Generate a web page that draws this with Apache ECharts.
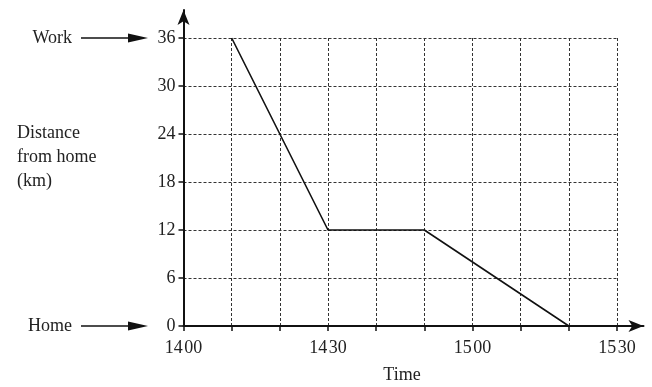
<!DOCTYPE html>
<html><head><meta charset="utf-8">
<script src="https://cdn.jsdelivr.net/npm/echarts@6/dist/echarts.min.js"></script>
<style>html,body{margin:0;padding:0;background:#fff}#c{width:652px;height:387px}</style>
</head><body><div id="c"></div>
<script>
// ---- data ----
const times = ['1410', '1430', '1450', '1520'];
const distances = [36, 12, 12, 0];
const xTickLabels = ['1400', '1430', '1500', '1530'];
const yTickLabels = [0, 6, 12, 18, 24, 30, 36];
const annotNames = ['Work', 'Home'];
const annotValues = [36, 0];
const axisTitleY = ['Distance', 'from home', '(km)'];
const axisTitleX = 'Time';

function toMin(s) { return (parseInt(s.slice(0, 2), 10) - 14) * 60 + parseInt(s.slice(2), 10); }
const seriesData = times.map((t, i) => [toMin(t), distances[i]]);
const xLabelVals = xTickLabels.map(toMin);
const xTickVals = [];
for (let v = 0; v <= 90; v += 10) xTickVals.push(v);

const FONT = '"Liberation Serif", "Times New Roman", serif';
const TXT = '#222';
const PX_PER_MIN = 433.5 / 90;
const PX_PER_KM = 288 / 36;
const X_EXT = 95.5, Y_EXT = 39.5;

const chart = echarts.init(document.getElementById('c'), null, { renderer: 'canvas' });
const dashed = { color: '#333', width: 1, type: [3, 2] };

chart.setOption({
  animation: false,
  backgroundColor: '#fff',
  grid: [
    { left: 183.5, top: 38, width: 90 * PX_PER_MIN, height: 36 * PX_PER_KM },
    { left: 183.5, top: 326 - Y_EXT * PX_PER_KM, width: X_EXT * PX_PER_MIN, height: Y_EXT * PX_PER_KM }
  ],
  xAxis: [
    { gridIndex: 0, type: 'value', min: 0, max: 90, interval: 10,
      axisLine: { show: false }, axisTick: { show: false }, axisLabel: { show: false },
      splitLine: { show: true, showMinLine: false, showMaxLine: true, lineStyle: dashed } },
    { gridIndex: 1, type: 'value', min: 0, max: X_EXT,
      axisLine: { show: true, onZero: false, lineStyle: { color: '#111', width: 2 },
        symbol: ['none', 'arrow'], symbolSize: [9, 15] },
      axisTick: { show: true, inside: false, length: 5, customValues: xTickVals, lineStyle: { color: '#111', width: 1.5 } },
      axisLabel: { show: true, customValues: xLabelVals, margin: 13,
        formatter: v => { const i = xLabelVals.indexOf(v); return i >= 0 ? xTickLabels[i].slice(0, 2) + '\u200A' + xTickLabels[i].slice(2) : ''; },
        color: TXT, fontFamily: FONT, fontSize: 18 },
      splitLine: { show: false } }
  ],
  yAxis: [
    { gridIndex: 0, type: 'value', min: 0, max: 36, interval: 6,
      axisLine: { show: false }, axisTick: { show: false }, axisLabel: { show: false },
      splitLine: { show: true, showMinLine: false, showMaxLine: true, lineStyle: dashed } },
    { gridIndex: 1, type: 'value', min: 0, max: Y_EXT,
      axisLine: { show: true, onZero: false, lineStyle: { color: '#111', width: 2 },
        symbol: ['none', 'arrow'], symbolSize: [9, 15] },
      axisTick: { show: true, inside: false, length: 5, customValues: yTickLabels, lineStyle: { color: '#111', width: 1.5 } },
      axisLabel: { show: true, customValues: yTickLabels, margin: 8,
        color: TXT, fontFamily: FONT, fontSize: 18 },
      splitLine: { show: false } }
  ],
  series: [{
    type: 'line', xAxisIndex: 0, yAxisIndex: 0, data: seriesData,
    symbol: 'none', lineStyle: { color: '#111', width: 1.6 }, z: 5
  }]
});

// annotations
const graphics = [];
annotNames.forEach((name, i) => {
  const py = chart.convertToPixel({ gridIndex: 0 }, [0, annotValues[i]])[1];
  graphics.push({ type: 'text', x: 72, y: py, style: { text: name, font: '18px ' + FONT, fill: TXT, align: 'right', verticalAlign: 'middle' } });
  graphics.push({ type: 'line', shape: { x1: 81, y1: py, x2: 132, y2: py }, style: { stroke: '#111', lineWidth: 1.5 } });
  graphics.push({ type: 'polygon', shape: { points: [[128, py - 4.5], [148, py], [128, py + 4.5]] }, style: { fill: '#111' } });
});
axisTitleY.forEach((t, i) => {
  graphics.push({ type: 'text', x: 17, y: 133 + i * 24, style: { text: t, font: '18px ' + FONT, fill: TXT, align: 'left', verticalAlign: 'middle' } });
});
graphics.push({ type: 'text', x: 402, y: 375, style: { text: axisTitleX, font: '18px ' + FONT, fill: TXT, align: 'center', verticalAlign: 'middle' } });
chart.setOption({ graphic: graphics });
</script>
</body></html>
